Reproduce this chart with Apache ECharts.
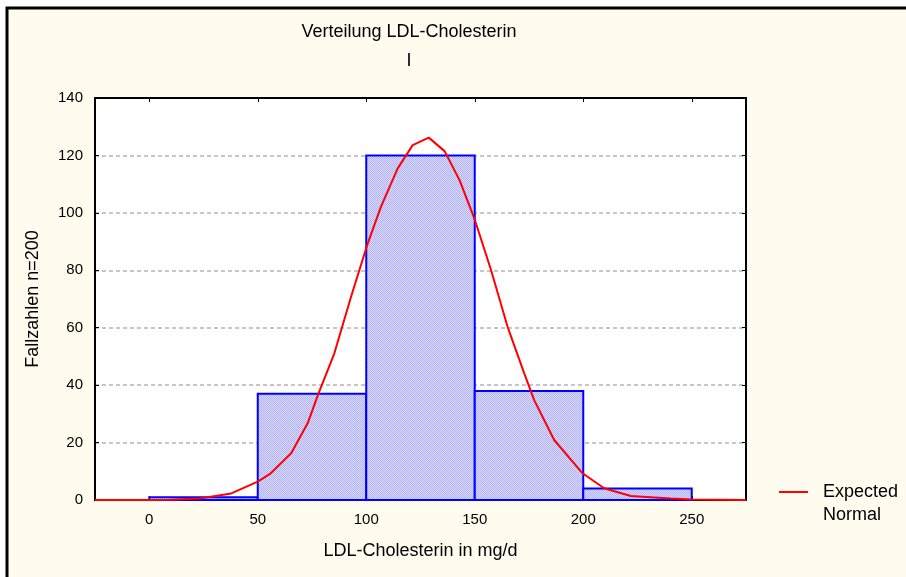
<!DOCTYPE html>
<html>
<head>
<meta charset="utf-8">
<script src="https://cdn.jsdelivr.net/npm/echarts@6/dist/echarts.min.js"></script>
<style>
  html, body { margin: 0; padding: 0; background: #fff; }
  #chart { width: 906px; height: 577px; }
</style>
</head>
<body>
<div id="chart"></div>
<script>
  // histogram bins (from, to, count)
  const binStart = [0, 50, 100, 150, 200];
  const binEnd = [50, 100, 150, 200, 250];
  const binCount = [1, 37, 120, 38, 4];

  // expected normal curve
  const curveX = [-25, 0, 10, 24, 37.8, 50, 56, 65.4, 73, 77.7, 85.3, 93, 100.7, 106.8, 114.5, 121.4, 128.8, 136.1, 143, 149.8, 157.5, 165.1, 172.8, 177.4, 186.6, 199.7, 209.6, 221.9, 240.3, 250, 275];
  const curveY = [0, 0, 0.1, 0.6, 2.3, 6.4, 9.3, 16.3, 26.7, 36.5, 51.1, 70.8, 89.4, 102.2, 115.5, 123.6, 126.2, 121.5, 111.4, 98.1, 80.1, 60.4, 44.1, 34.8, 20.9, 9.3, 4.1, 1.4, 0.5, 0.2, 0];

  const font = 'Liberation Sans, Arial, sans-serif';

  // small dotted fill like the original hatch
  const pat = document.createElement('canvas');
  pat.width = 2; pat.height = 2;
  const pctx = pat.getContext('2d');
  pctx.fillStyle = '#dcdcff'; pctx.fillRect(0, 0, 2, 2);
  pctx.fillStyle = '#b0b0f6'; pctx.fillRect(0, 0, 1, 1); pctx.fillRect(1, 1, 1, 1);

  const chart = echarts.init(document.getElementById('chart'));

  function ticks() {
    return { show: true, inside: true, length: 4, lineStyle: { color: '#000', width: 1 } };
  }

  const option = {
    backgroundColor: '#ffffff',
    animation: false,
    graphic: [
      {
        type: 'rect', z: -10, silent: true,
        shape: { x: 7, y: 8, width: 920, height: 600 },
        style: { fill: '#fffbee', stroke: '#000', lineWidth: 3 }
      },
      {
        type: 'text', left: 823, top: 506,
        style: { text: 'Normal', font: '18px ' + font, fill: '#000' }
      }
    ],
    title: [
      {
        text: 'Verteilung LDL-Cholesterin', left: 404, top: 18, textAlign: 'center',
        textStyle: { fontFamily: font, fontSize: 18, fontWeight: 'normal', color: '#000' }
      },
      {
        text: 'I', left: 404, top: 47, textAlign: 'center',
        textStyle: { fontFamily: font, fontSize: 18, fontWeight: 'normal', color: '#000' }
      }
    ],
    legend: {
      left: 774, top: 478,
      data: [{ name: 'Expected Normal', icon: 'rect' }],
      itemWidth: 29, itemHeight: 2,
      formatter: function () { return 'Expected'; },
      textStyle: { fontFamily: font, fontSize: 18, color: '#000', padding: [0, 0, 0, 10] }
    },
    grid: {
      left: 95, right: 160, top: 98, bottom: 77,
      show: true, backgroundColor: '#ffffff', borderColor: '#000', borderWidth: 2
    },
    xAxis: [
      {
        type: 'value', min: -25, max: 275,
        name: 'LDL-Cholesterin in mg/d', nameLocation: 'middle', nameGap: 42,
        nameTextStyle: { fontFamily: font, fontSize: 18, color: '#000' },
        axisLine: { show: true, onZero: false, lineStyle: { color: '#000', width: 2 } },
        axisTick: ticks(),
        axisLabel: { fontFamily: font, fontSize: 15, color: '#000', margin: 12, showMinLabel: false, showMaxLabel: false },
        splitLine: { show: false }
      },
      {
        type: 'value', position: 'top', min: -25, max: 275,
        axisLine: { show: true, onZero: false, lineStyle: { color: '#000', width: 2 } },
        axisTick: ticks(),
        axisLabel: { show: false },
        splitLine: { show: false }
      }
    ],
    yAxis: [
      {
        type: 'value', min: 0, max: 140, interval: 20,
        name: 'Fallzahlen n=200', nameLocation: 'middle', nameGap: 53,
        nameTextStyle: { fontFamily: font, fontSize: 18, color: '#000' },
        axisLine: { show: true, onZero: false, lineStyle: { color: '#000', width: 2 } },
        axisTick: ticks(),
        axisLabel: { fontFamily: font, fontSize: 15, color: '#000', margin: 12 },
        splitLine: { show: true, showMinLine: false, showMaxLine: false, lineStyle: { color: '#b4b4b4', type: [4, 3], width: 1.5 } }
      },
      {
        type: 'value', position: 'right', min: 0, max: 140, interval: 20,
        axisLine: { show: true, onZero: false, lineStyle: { color: '#000', width: 2 } },
        axisTick: ticks(),
        axisLabel: { show: false },
        splitLine: { show: false }
      }
    ],
    series: [
      {
        name: 'Histogram',
        type: 'custom',
        xAxisIndex: 0, yAxisIndex: 0,
        z: 3,
        data: binStart.map((s, i) => [s, binEnd[i], binCount[i]]),
        renderItem: function (params, api) {
          const p0 = api.coord([api.value(0), api.value(2)]);
          const p1 = api.coord([api.value(1), 0]);
          return {
            type: 'rect',
            shape: { x: p0[0], y: p0[1], width: p1[0] - p0[0], height: p1[1] - p0[1] },
            style: { fill: { image: pat, repeat: 'repeat' }, stroke: '#0000ff', lineWidth: 2 }
          };
        }
      },
      {
        name: 'Expected Normal',
        type: 'line',
        xAxisIndex: 0, yAxisIndex: 0,
        z: 5,
        showSymbol: false,
        symbol: 'none',
        color: '#ff0000',
        lineStyle: { color: '#ff0000', width: 2 },
        data: curveX.map((x, i) => [x, curveY[i]])
      }
    ]
  };

  chart.setOption(option);
</script>
</body>
</html>
